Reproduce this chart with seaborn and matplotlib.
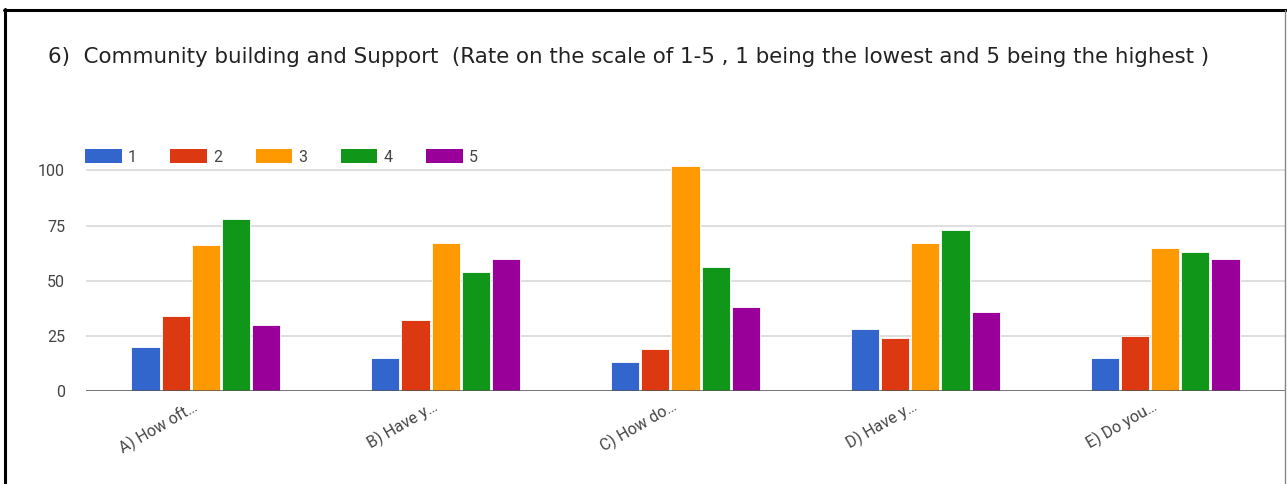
import matplotlib
matplotlib.use("Agg")
import matplotlib.pyplot as plt
from matplotlib.lines import Line2D
from matplotlib.patches import Patch
from matplotlib.transforms import ScaledTranslation
import seaborn as sns
import pandas as pd

questions = ["A) How oft…", "B) Have y…", "C) How do…", "D) Have y…", "E) Do you…"]
ratings = ["1", "2", "3", "4", "5"]
r1 = [20, 15, 13, 28, 15]
r2 = [34, 32, 19, 24, 25]
r3 = [66, 67, 102, 67, 65]
r4 = [78, 54, 56, 73, 63]
r5 = [30, 60, 38, 36, 60]
colors = ["#3366cc", "#dc3912", "#ff9900", "#109618", "#990099"]
title = "6)  Community building and Support  (Rate on the scale of 1-5 , 1 being the lowest and 5 being the highest )"

rows = []
for rating, vals in zip(ratings, [r1, r2, r3, r4, r5]):
    for q, v in zip(questions, vals):
        rows.append({"question": q, "rating": rating, "count": v})
df = pd.DataFrame(rows)

sns.set_theme(style="white")
plt.rcParams["font.family"] = ["Roboto", "DejaVu Sans"]

W, H = 1287, 484
fig = plt.figure(figsize=(W / 100, H / 100), dpi=100)
ax = fig.add_axes([86 / W, (H - 391) / H, (1285 - 86) / W, 231.7 / H])

sns.barplot(data=df, x="question", y="count", hue="rating", order=questions,
            hue_order=ratings, palette=colors, width=0.63, gap=0.07,
            edgecolor="white", linewidth=0.6, saturation=1, legend=False, ax=ax)

ax.set_xlim(-0.5, len(questions) - 0.5)
ax.set_ylim(0, 105)
ax.set_yticks([0, 25, 50, 75, 100])
ax.yaxis.grid(True, color="#d9d9d9", linewidth=1.2)
ax.set_axisbelow(True)
ax.axhline(0, color="#555555", linewidth=1.8, zorder=5)
for s in ax.spines.values():
    s.set_visible(False)
ax.set_xlabel("")
ax.set_ylabel("")
ax.tick_params(axis="y", length=0, pad=15, labelsize=11.5, labelcolor="#444444")
ax.tick_params(axis="x", length=0, pad=5, labelsize=11.5, labelcolor="#444444")
shift = ScaledTranslation(-14 / 100, 0, fig.dpi_scale_trans)
for lab in ax.get_xticklabels():
    lab.set_rotation(30)
    lab.set_ha("right")
    lab.set_rotation_mode("anchor")
    lab.set_transform(lab.get_transform() + shift)

fig.text(48 / W, 1 - 57 / H, title, fontsize=15.4, color="#222222", va="center", ha="left",
         family=["DejaVu Sans"])

handles = [Patch(facecolor=c, edgecolor="none") for c in colors]
fig.legend(handles, ratings, loc="center left", bbox_to_anchor=(85 / W, 1 - 157 / H),
           ncol=5, frameon=False, fontsize=11.5, handlelength=2.3, handleheight=0.95,
           handletextpad=0.4, columnspacing=2.07, borderpad=0, borderaxespad=0,
           labelcolor="#444444")

# document frame
fig.add_artist(Line2D([5 / W, 5 / W], [0, 1 - 9 / H], color="black", lw=2.2, transform=fig.transFigure))
fig.add_artist(Line2D([4 / W, 1], [1 - 10 / H, 1 - 10 / H], color="black", lw=2.2, transform=fig.transFigure))
fig.add_artist(Line2D([1284.5 / W, 1284.5 / W], [0, 1 - 10 / H], color="#888888", lw=1, transform=fig.transFigure))

fig.savefig("out.png", dpi=100, facecolor="white")
